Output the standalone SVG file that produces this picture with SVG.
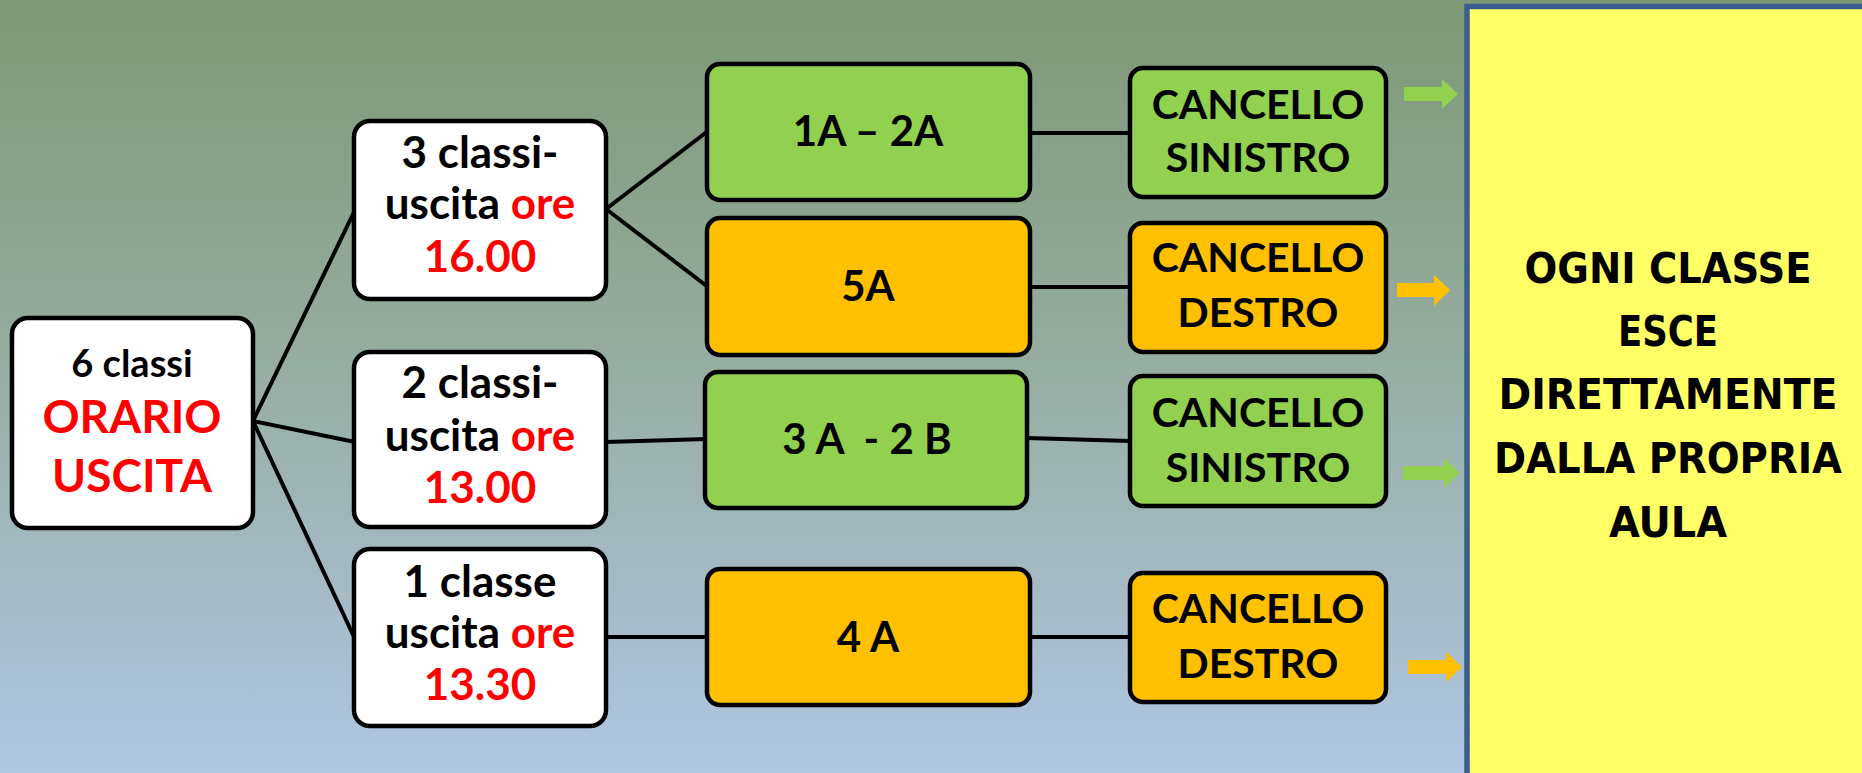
<svg xmlns="http://www.w3.org/2000/svg" width="1862" height="773" viewBox="0 0 1862 773">
<defs>
<linearGradient id="bg" x1="0" y1="0" x2="0" y2="1">
<stop offset="0" stop-color="#7E9775"/>
<stop offset="0.45" stop-color="#95AC9F"/>
<stop offset="1" stop-color="#B0C6E3"/>
</linearGradient>
</defs>
<style>
.box{stroke:#000;stroke-width:4.5}
.w{fill:#FFFFFF}
.g{fill:#92D050}
.o{fill:#FFC000}
.t{font-family:Lato,"Liberation Sans",sans-serif;font-weight:bold;fill:#000;text-anchor:middle}
.r{fill:#FF0000}
.ln{stroke:#000;stroke-width:4;fill:none}
.big{font-family:"DejaVu Sans Condensed","DejaVu Sans",Verdana,sans-serif;font-weight:bold;font-size:43px;fill:#000;text-anchor:middle}
</style>
<rect width="1862" height="773" fill="url(#bg)"/>

<g id="connectors">
<line class="ln" x1="253" y1="421" x2="355" y2="210"/>
<line class="ln" x1="253" y1="421" x2="355" y2="442"/>
<line class="ln" x1="253" y1="421" x2="355" y2="639"/>
<line class="ln" x1="606" y1="209" x2="708" y2="131"/>
<line class="ln" x1="606" y1="209" x2="708" y2="287"/>
<line class="ln" x1="606" y1="442" x2="707" y2="439"/>
<line class="ln" x1="606" y1="637" x2="708" y2="637"/>
<line class="ln" x1="1030" y1="133" x2="1130" y2="133"/>
<line class="ln" x1="1030" y1="287" x2="1130" y2="287"/>
<line class="ln" x1="1027" y1="438" x2="1130" y2="441"/>
<line class="ln" x1="1030" y1="637" x2="1130" y2="637"/>
<path d="M1404 87 H1442 V79 L1458 94 L1442 109 V101 H1404 Z" fill="#92D050"/>
<path d="M1397 283 H1434 V275 L1450 290 L1434 306 V297 H1397 Z" fill="#FFC000"/>
<path d="M1403 466 H1444 V458 L1460 473 L1444 488 V480 H1403 Z" fill="#92D050"/>
<path d="M1408 660 H1446 V652 L1462 667 L1446 682 V674 H1408 Z" fill="#FFC000"/>
</g>

<g id="root">
<rect class="box w" x="12" y="318" width="241" height="210" rx="16"/>
<text class="t" x="132" y="377" font-size="38">6 classi</text>
<text class="t r" x="132" y="433" font-size="46">ORARIO</text>
<text class="t r" x="132" y="492" font-size="46">USCITA</text>
</g>

<g id="n16">
<rect class="box w" x="354" y="121" width="252" height="178" rx="16"/>
<text class="t" x="480" y="168" font-size="44">3 classi-</text>
<text class="t" x="480" y="219" font-size="44">uscita <tspan class="r">ore</tspan></text>
<text class="t r" x="480" y="272" font-size="44">16.00</text>
</g>

<g id="n13">
<rect class="box w" x="354" y="352" width="252" height="175" rx="16"/>
<text class="t" x="480" y="398" font-size="44">2 classi-</text>
<text class="t" x="480" y="451" font-size="44">uscita <tspan class="r">ore</tspan></text>
<text class="t r" x="480" y="503" font-size="44">13.00</text>
</g>

<g id="n1330">
<rect class="box w" x="354" y="549" width="252" height="177" rx="16"/>
<text class="t" x="480" y="597" font-size="44">1 classe</text>
<text class="t" x="480" y="648" font-size="44">uscita <tspan class="r">ore</tspan></text>
<text class="t r" x="480" y="700" font-size="44">13.30</text>
</g>

<g id="c1a2a">
<rect class="box g" x="707" y="64" width="323" height="136" rx="13"/>
<text class="t" x="868" y="146" font-size="42">1A – 2A</text>
</g>
<g id="c5a">
<rect class="box o" x="707" y="218" width="323" height="137" rx="13"/>
<text class="t" x="868" y="301" font-size="42">5A</text>
</g>
<g id="c3a2b">
<rect class="box g" x="705" y="372" width="322" height="136" rx="13"/>
<text class="t" x="867" y="454" font-size="42" xml:space="preserve">3 A  - 2 B</text>
</g>
<g id="c4a">
<rect class="box o" x="707" y="569" width="323" height="136" rx="13"/>
<text class="t" x="868" y="652" font-size="42">4 A</text>
</g>

<g id="gate1">
<rect class="box g" x="1130" y="68" width="256" height="129" rx="13"/>
<text class="t" x="1258" y="119" font-size="41">CANCELLO</text>
<text class="t" x="1258" y="172" font-size="41">SINISTRO</text>
</g>
<g id="gate2">
<rect class="box o" x="1130" y="223" width="256" height="129" rx="13"/>
<text class="t" x="1258" y="272" font-size="41">CANCELLO</text>
<text class="t" x="1258" y="327" font-size="41">DESTRO</text>
</g>
<g id="gate3">
<rect class="box g" x="1130" y="376" width="256" height="130" rx="13"/>
<text class="t" x="1258" y="427" font-size="41">CANCELLO</text>
<text class="t" x="1258" y="482" font-size="41">SINISTRO</text>
</g>
<g id="gate4">
<rect class="box o" x="1130" y="573" width="256" height="129" rx="13"/>
<text class="t" x="1258" y="623" font-size="41">CANCELLO</text>
<text class="t" x="1258" y="678" font-size="41">DESTRO</text>
</g>

<g id="exit">
<rect x="1467" y="6.5" width="500" height="800" fill="#FFFF66" stroke="#3B5E8C" stroke-width="5.5"/>
<text class="big" x="1668" y="283" textLength="287" lengthAdjust="spacingAndGlyphs">OGNI CLASSE</text>
<text class="big" x="1668" y="346" textLength="100" lengthAdjust="spacingAndGlyphs">ESCE</text>
<text class="big" x="1668" y="409" textLength="339" lengthAdjust="spacingAndGlyphs">DIRETTAMENTE</text>
<text class="big" x="1668" y="473" textLength="348" lengthAdjust="spacingAndGlyphs">DALLA PROPRIA</text>
<text class="big" x="1668" y="537" textLength="118" lengthAdjust="spacingAndGlyphs">AULA</text>
</g>
</svg>
